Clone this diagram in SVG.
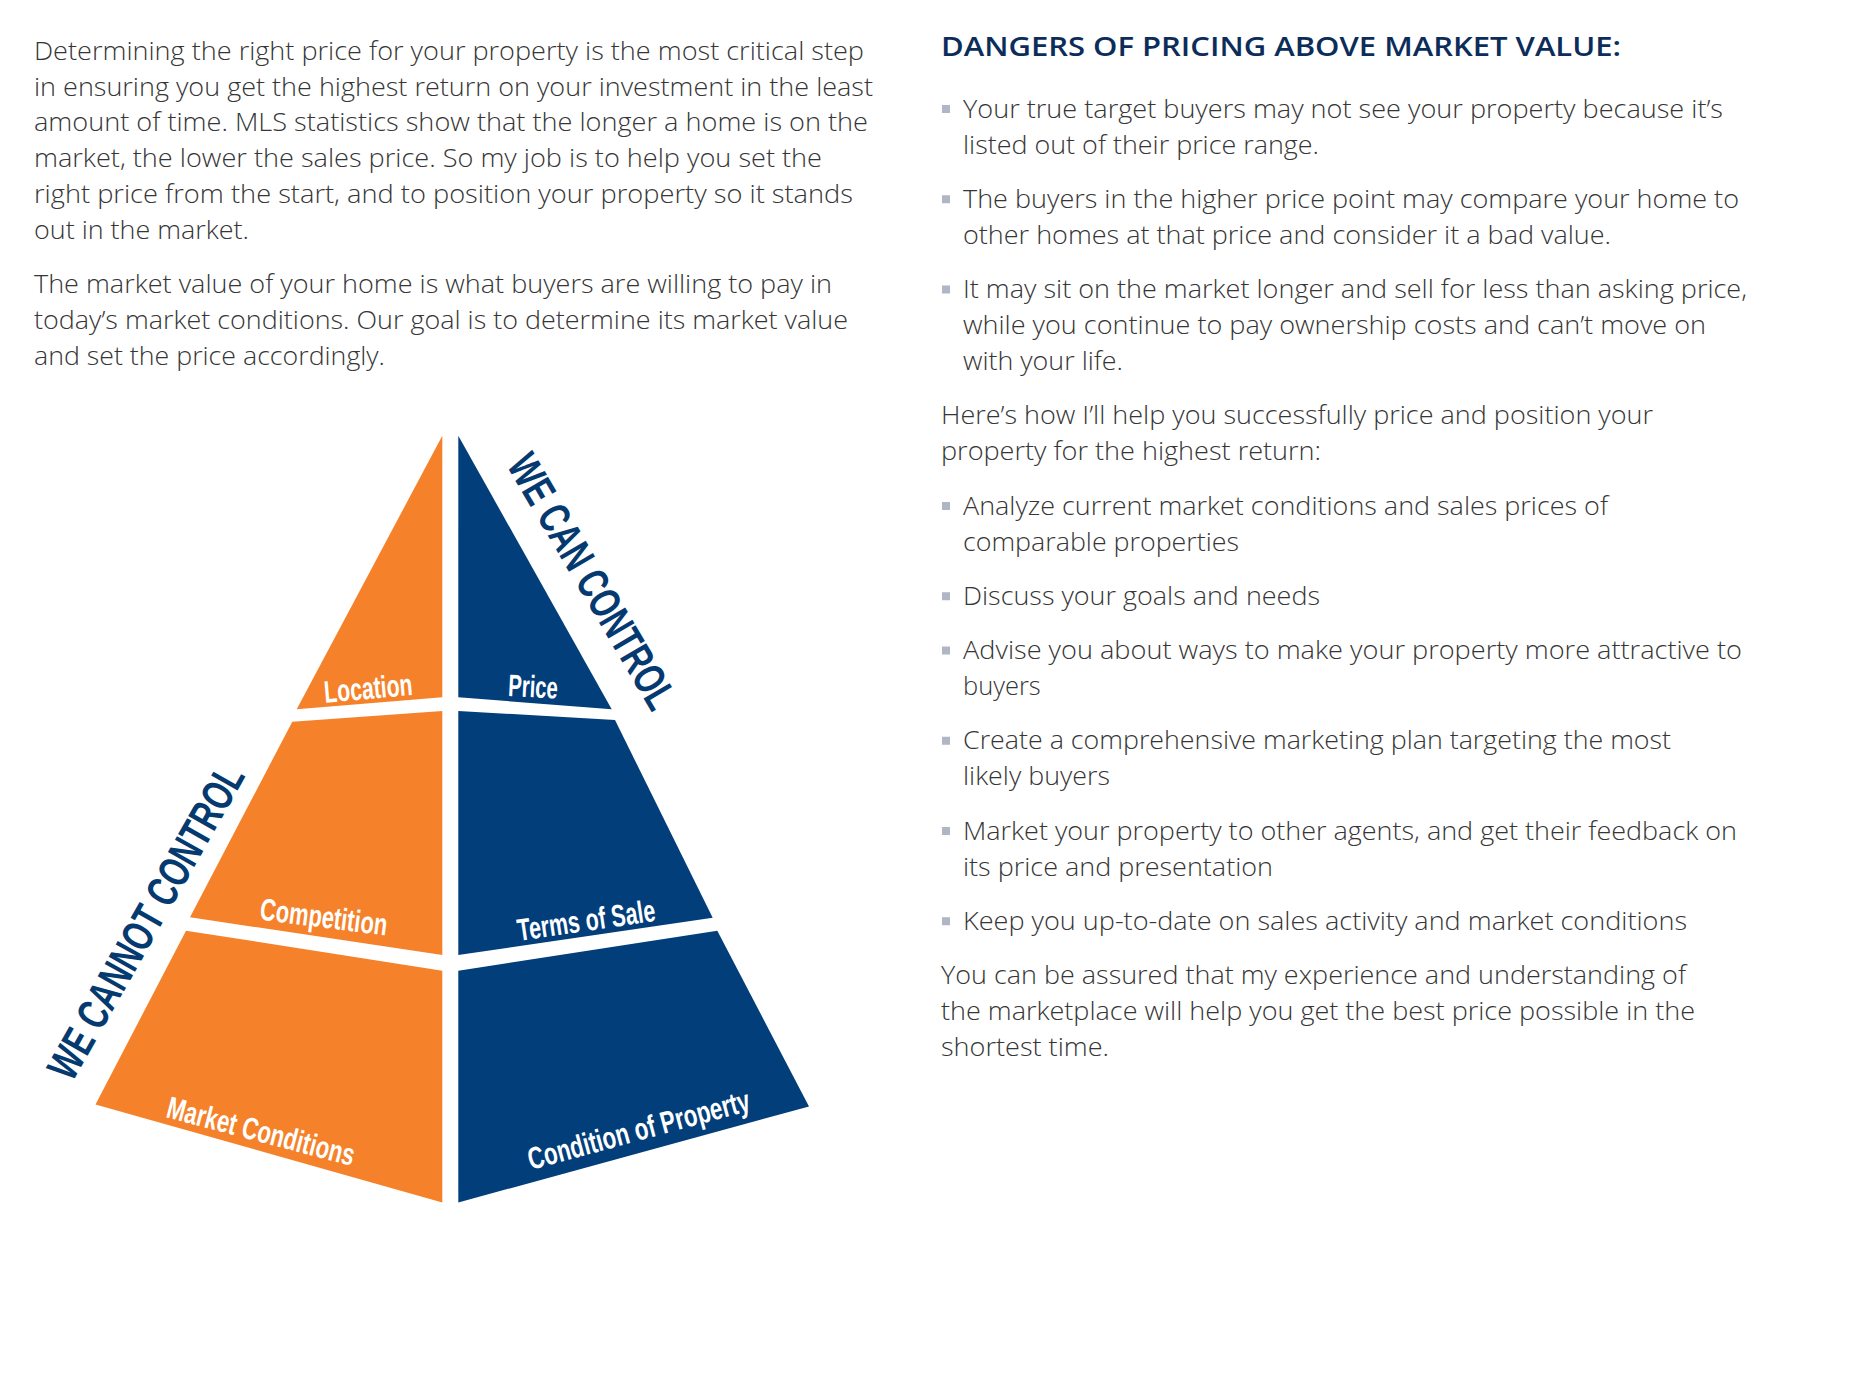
<svg xmlns="http://www.w3.org/2000/svg" width="1849" height="1387" viewBox="0 0 1849 1387">
<style>
.body{font-family:"Open Sans","Liberation Sans",sans-serif;font-weight:300;font-size:25.5px;fill:#363636}
.head{font-family:"Open Sans","Liberation Sans",sans-serif;font-weight:600;font-size:27.5px;fill:#0c2d5a}
.lbl{font-family:"Liberation Sans Narrow","Liberation Sans",sans-serif;font-weight:700;font-size:31px;fill:#ffffff}
.side{font-family:"Liberation Sans Narrow","Liberation Sans",sans-serif;font-weight:700;font-size:44px;fill:#053a70}
.or{fill:#f5822a}
.bl{fill:#013e7a}
.bul{fill:#aeb7c3}
</style>
<rect width="1849" height="1387" fill="#ffffff"/>

<g id="intro-text">
<text class="body" x="34" y="59.7" textLength="830" lengthAdjust="spacingAndGlyphs">Determining the right price for your property is the most critical step</text>
<text class="body" x="34" y="95.5" textLength="839" lengthAdjust="spacingAndGlyphs">in ensuring you get the highest return on your investment in the least</text>
<text class="body" x="34" y="131.3" textLength="834" lengthAdjust="spacingAndGlyphs">amount of time. MLS statistics show that the longer a home is on the</text>
<text class="body" x="34" y="167.1" textLength="788" lengthAdjust="spacingAndGlyphs">market, the lower the sales price. So my job is to help you set the</text>
<text class="body" x="34" y="202.9" textLength="819" lengthAdjust="spacingAndGlyphs">right price from the start, and to position your property so it stands</text>
<text class="body" x="34" y="238.7" textLength="215" lengthAdjust="spacingAndGlyphs">out in the market.</text>
<text class="body" x="34" y="293.2" textLength="798" lengthAdjust="spacingAndGlyphs">The market value of your home is what buyers are willing to pay in</text>
<text class="body" x="34" y="329" textLength="814" lengthAdjust="spacingAndGlyphs">today’s market conditions. Our goal is to determine its market value</text>
<text class="body" x="34" y="364.8" textLength="351" lengthAdjust="spacingAndGlyphs">and set the price accordingly.</text>
</g>

<g id="pyramid">
<g id="node-location">
<path class="or" d="M442.3,435.7 L442.3,697.3 L296.7,709.3 Z"/>
<text class="lbl" transform="translate(325,702.7) rotate(-5)" textLength="88.6" lengthAdjust="spacingAndGlyphs">Location</text>
</g>
<g id="node-competition">
<path class="or" d="M292.3,721.7 L442.3,711 L442.3,955 L190,917.3 Z"/>
<text class="lbl" transform="translate(259,919.5) rotate(7.2)" textLength="128" lengthAdjust="spacingAndGlyphs">Competition</text>
</g>
<g id="node-market-conditions">
<path class="or" d="M186,930.7 L442.3,970.7 L442.3,1202.5 L95.5,1104.5 Z"/>
<text class="lbl" transform="translate(165,1117) rotate(14.7)" textLength="193" lengthAdjust="spacingAndGlyphs">Market Conditions</text>
</g>
<g id="node-price">
<path class="bl" d="M458.3,435.7 L611.7,709.3 L458.3,697.3 Z"/>
<text class="lbl" transform="translate(507.7,696) rotate(3)" textLength="49.7" lengthAdjust="spacingAndGlyphs">Price</text>
</g>
<g id="node-terms-of-sale">
<path class="bl" d="M458.3,711 L615,720 L712.7,917.7 L458.3,955 Z"/>
<text class="lbl" transform="translate(519,941) rotate(-8.4)" textLength="139" lengthAdjust="spacingAndGlyphs">Terms of Sale</text>
</g>
<g id="node-condition-of-property">
<path class="bl" d="M458.3,970.7 L717.3,930.7 L809,1106.5 L458.3,1202.5 Z"/>
<text class="lbl" transform="translate(531,1170) rotate(-15.2)" textLength="229" lengthAdjust="spacingAndGlyphs">Condition of Property</text>
</g>
<g id="label-we-can-control">
<text class="side" transform="translate(506,465) rotate(59.5)" textLength="288" lengthAdjust="spacingAndGlyphs">WE CAN CONTROL</text>
</g>
<g id="label-we-cannot-control">
<text class="side" transform="translate(72,1083) rotate(-60.5)" textLength="353" lengthAdjust="spacingAndGlyphs">WE CANNOT CONTROL</text>
</g>
</g>

<g id="connectors"/>

<g id="right-column">
<text class="head" x="941" y="56" textLength="680" lengthAdjust="spacingAndGlyphs">DANGERS OF PRICING ABOVE MARKET VALUE:</text>

<g id="bullets">
<rect class="bul" x="942" y="105" width="8" height="8"/>
<rect class="bul" x="942" y="195.25" width="8" height="8"/>
<rect class="bul" x="942" y="285.5" width="8" height="8"/>
<rect class="bul" x="942" y="502" width="8" height="8"/>
<rect class="bul" x="942" y="592.25" width="8" height="8"/>
<rect class="bul" x="942" y="646.5" width="8" height="8"/>
<rect class="bul" x="942" y="736.75" width="8" height="8"/>
<rect class="bul" x="942" y="827" width="8" height="8"/>
<rect class="bul" x="942" y="917.25" width="8" height="8"/>
</g>

<text class="body" x="963" y="117.5" textLength="760" lengthAdjust="spacingAndGlyphs">Your true target buyers may not see your property because it’s</text>
<text class="body" x="963" y="153.5" textLength="356" lengthAdjust="spacingAndGlyphs">listed out of their price range.</text>
<text class="body" x="963" y="207.75" textLength="776" lengthAdjust="spacingAndGlyphs">The buyers in the higher price point may compare your home to</text>
<text class="body" x="963" y="243.75" textLength="648" lengthAdjust="spacingAndGlyphs">other homes at that price and consider it a bad value.</text>
<text class="body" x="963" y="298" textLength="784" lengthAdjust="spacingAndGlyphs">It may sit on the market longer and sell for less than asking price,</text>
<text class="body" x="963" y="334" textLength="743" lengthAdjust="spacingAndGlyphs">while you continue to pay ownership costs and can’t move on</text>
<text class="body" x="963" y="370" textLength="160" lengthAdjust="spacingAndGlyphs">with your life.</text>
<text class="body" x="941" y="424.25" textLength="712" lengthAdjust="spacingAndGlyphs">Here’s how I’ll help you successfully price and position your</text>
<text class="body" x="941" y="460.25" textLength="380" lengthAdjust="spacingAndGlyphs">property for the highest return:</text>
<text class="body" x="963" y="514.5" textLength="645" lengthAdjust="spacingAndGlyphs">Analyze current market conditions and sales prices of</text>
<text class="body" x="963" y="550.5" textLength="276" lengthAdjust="spacingAndGlyphs">comparable properties</text>
<text class="body" x="963" y="604.75" textLength="357" lengthAdjust="spacingAndGlyphs">Discuss your goals and needs</text>
<text class="body" x="963" y="659" textLength="779" lengthAdjust="spacingAndGlyphs">Advise you about ways to make your property more attractive to</text>
<text class="body" x="963" y="695">buyers</text>
<text class="body" x="963" y="749.25" textLength="708" lengthAdjust="spacingAndGlyphs">Create a comprehensive marketing plan targeting the most</text>
<text class="body" x="963" y="785.25" textLength="147" lengthAdjust="spacingAndGlyphs">likely buyers</text>
<text class="body" x="963" y="839.5" textLength="774" lengthAdjust="spacingAndGlyphs">Market your property to other agents, and get their feedback on</text>
<text class="body" x="963" y="875.5" textLength="310" lengthAdjust="spacingAndGlyphs">its price and presentation</text>
<text class="body" x="963" y="929.75" textLength="724" lengthAdjust="spacingAndGlyphs">Keep you up-to-date on sales activity and market conditions</text>
<text class="body" x="941" y="984" textLength="745" lengthAdjust="spacingAndGlyphs">You can be assured that my experience and understanding of</text>
<text class="body" x="941" y="1020" textLength="754" lengthAdjust="spacingAndGlyphs">the marketplace will help you get the best price possible in the</text>
<text class="body" x="941" y="1056" textLength="168" lengthAdjust="spacingAndGlyphs">shortest time.</text>
</g>
</svg>
